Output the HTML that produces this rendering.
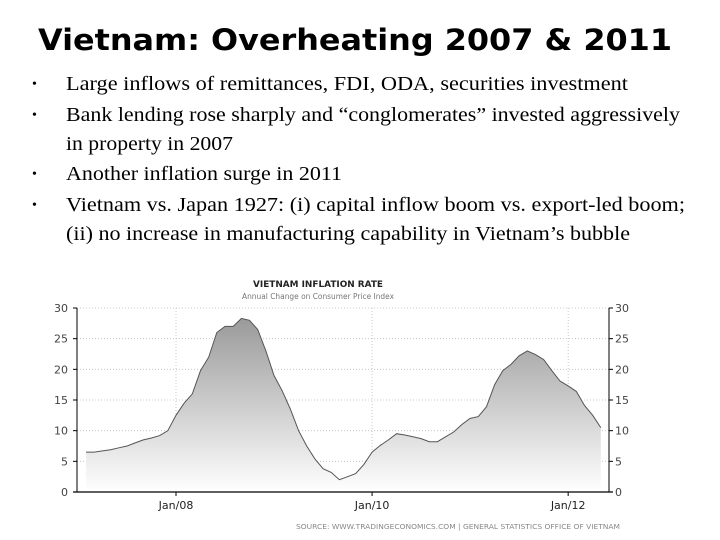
<!DOCTYPE html>
<html><head><meta charset="utf-8"><style>
html,body{margin:0;padding:0;background:#fff;}
svg{display:block;}
</style></head><body>
<svg id="slide" width="720" height="540" viewBox="0 0 720 540" xmlns="http://www.w3.org/2000/svg">
<defs>
<linearGradient id="fillg" x1="0" y1="0" x2="0" y2="1">
<stop offset="0" stop-color="#9a9a9a"/><stop offset="1" stop-color="#ffffff"/>
</linearGradient>
</defs>
<text x="38" y="50" font-family="DejaVu Sans, sans-serif" font-weight="bold" font-size="29" textLength="634" lengthAdjust="spacingAndGlyphs">Vietnam: Overheating 2007 &amp; 2011</text>
<g font-family="Liberation Serif, serif" font-size="20" fill="#000">
<text x="32" y="88" font-size="14">•</text><text x="66" y="90" textLength="562" lengthAdjust="spacingAndGlyphs">Large inflows of remittances, FDI, ODA, securities investment</text>
<text x="32" y="119" font-size="14">•</text><text x="66" y="121" textLength="614" lengthAdjust="spacingAndGlyphs">Bank lending rose sharply and “conglomerates” invested aggressively</text>
<text x="66" y="150" textLength="167" lengthAdjust="spacingAndGlyphs">in property in 2007</text>
<text x="32" y="178" font-size="14">•</text><text x="66" y="180" textLength="276" lengthAdjust="spacingAndGlyphs">Another inflation surge in 2011</text>
<text x="32" y="209" font-size="14">•</text><text x="66" y="211" textLength="619" lengthAdjust="spacingAndGlyphs">Vietnam vs. Japan 1927: (i) capital inflow boom vs. export-led boom;</text>
<text x="66" y="240" textLength="564" lengthAdjust="spacingAndGlyphs">(ii) no increase in manufacturing capability in Vietnam’s bubble</text>
</g>
<text x="318" y="287" text-anchor="middle" font-family="DejaVu Sans, sans-serif" font-weight="bold" font-size="9" fill="#222" textLength="130" lengthAdjust="spacingAndGlyphs">VIETNAM INFLATION RATE</text>
<text x="318" y="299" text-anchor="middle" font-family="DejaVu Sans, sans-serif" font-size="7.5" fill="#777" textLength="152" lengthAdjust="spacingAndGlyphs">Annual Change on Consumer Price Index</text>
<g id="chart"></g>
<text x="296" y="529" font-family="DejaVu Sans, sans-serif" font-size="7" fill="#888" textLength="324" lengthAdjust="spacingAndGlyphs">SOURCE: WWW.TRADINGECONOMICS.COM | GENERAL STATISTICS OFFICE OF VIETNAM</text>
</svg>
<script>
const startMonth = [2007, 2]; // Feb 2007
const inflationValues = [
6.5,6.5,6.7,6.9,7.2,7.5,8.0,8.5,8.8,9.2,10.0,
12.5,14.5,16.0,19.8,22.0,26.0,27.0,27.0,28.3,28.0,26.5,23.0,
19.0,16.5,13.5,10.0,7.5,5.4,3.8,3.2,2.0,2.5,3.0,4.5,
6.5,7.6,8.5,9.5,9.3,9.0,8.7,8.2,8.2,9.0,9.8,11.0,
12.0,12.3,13.9,17.5,19.8,20.8,22.2,23.0,22.4,21.6,19.8,18.1,
17.3,16.4,14.1,12.5,10.5];
const yTicks = [0,5,10,15,20,25,30];
const xTickLabels = ["Jan/08","Jan/10","Jan/12"];
const xTickMonths = [12,36,60]; // months since Jan 2007

const NS="http://www.w3.org/2000/svg";
const g=document.getElementById('chart');
const L=77,R=609,Y0=492,Y30=308;
const mJan08=176, pxPerMonth=8.17;
function xScale(m){return mJan08+(m-12)*pxPerMonth;}
function yScale(v){return Y0-(v/30)*(Y0-Y30);}
function mk(tag,attrs){const e=document.createElementNS(NS,tag);for(const k in attrs)e.setAttribute(k,attrs[k]);g.appendChild(e);return e;}
function monthOf(i){return (startMonth[0]-2007)*12+(startMonth[1]-1)+i;}

yTicks.forEach(v=>{
  const y=yScale(v);
  if(v>0){const gl=mk('line',{x1:L,x2:R,y1:y,y2:y,stroke:'#bbb','stroke-width':0.8,'stroke-dasharray':'1,2'});
  
  }
  const t1=mk('text',{x:L-9,y:y+4,'text-anchor':'end','font-family':'DejaVu Sans, sans-serif','font-size':11,fill:'#444'});
  t1.textContent=v;
  
  
  const t2=mk('text',{x:R+6,y:y+4,'font-family':'DejaVu Sans, sans-serif','font-size':11,fill:'#444'});
  t2.textContent=v;
  
  
  mk('line',{x1:L-4,x2:L,y1:y,y2:y,stroke:'#000'});
  mk('line',{x1:R,x2:R+4,y1:y,y2:y,stroke:'#000'});
});
xTickMonths.forEach((m,i)=>{
  const x=xScale(m);
  const gl=mk('line',{x1:x,x2:x,y1:Y30,y2:Y0,stroke:'#bbb','stroke-width':0.8,'stroke-dasharray':'1,2'});
  
  
  mk('line',{x1:x,x2:x,y1:Y0,y2:Y0+4,stroke:'#000'});
  const t=mk('text',{x:x,y:Y0+17,'text-anchor':'middle','font-family':'DejaVu Sans, sans-serif','font-size':11,fill:'#222'});
  t.textContent=xTickLabels[i];
  
  
});
let pts=inflationValues.map((v,i)=>[xScale(monthOf(i)),yScale(v)]);
let line=pts.map((p,i)=>(i?'L':'M')+p[0].toFixed(1)+','+p[1].toFixed(1)).join(' ');
let area=line+' L'+pts[pts.length-1][0].toFixed(1)+','+Y0+' L'+pts[0][0].toFixed(1)+','+Y0+' Z';
const a=mk('path',{d:area,fill:'url(#fillg)',stroke:'none'});


const ln=mk('path',{d:line,fill:'none',stroke:'#555','stroke-width':1});


const ax1=mk('line',{x1:L,x2:L,y1:Y30,y2:Y0,stroke:'#000'});


const ax2=mk('line',{x1:R,x2:R,y1:Y30,y2:Y0,stroke:'#000'});


const ax3=mk('line',{x1:L-4,x2:R+4,y1:Y0,y2:Y0,stroke:'#000','stroke-width':1.2});


</script>
</body></html>
